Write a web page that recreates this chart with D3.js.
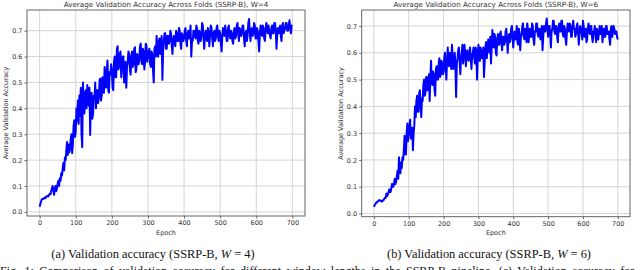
<!DOCTYPE html>
<html>
<head>
<meta charset="utf-8">
<script src="https://cdn.jsdelivr.net/npm/d3@7"></script>
<style>
  body { margin: 0; background: #fff; }
  svg { display: block; }
</style>
</head>
<body>
<div id="chart"></div>
<script>
// validation accuracy, one value every 2 epochs (0..700)
const epochStep = 2;

const accW4 = [
  .02,.03,.04,.048,.05,.05,.052,.055,.053,.058,.06,.062,.06,.065,.07,.068,.08,.09,.10,.085,
  .066,.09,.10,.08,.09,.11,.12,.10,.13,.12,.15,.14,.17,.19,.16,.21,.20,.24,.27,.22,
  .26,.23,.24,.28,.30,.227,.26,.33,.354,.29,.31,.40,.35,.43,.34,.45,.37,.48,.30,.25,
  .50,.42,.38,.46,.47,.40,.49,.44,.41,.48,.297,.43,.46,.36,.38,.45,.44,.50,.40,.47,
  .47,.42,.44,.51,.515,.43,.45,.52,.50,.46,.56,.49,.48,.55,.585,.47,.46,.54,.53,.57,
  .55,.48,.47,.58,.60,.52,.52,.63,.64,.55,.56,.61,.62,.52,.55,.60,.60,.50,.50,.58,
  .48,.56,.58,.62,.61,.55,.53,.60,.62,.56,.57,.63,.636,.54,.55,.61,.60,.57,.59,.64,
  .65,.58,.57,.63,.62,.55,.58,.65,.64,.58,.60,.62,.63,.57,.56,.62,.61,.55,.50,.63,
  .64,.60,.68,.62,.60,.66,.67,.61,.62,.68,.51,.62,.66,.69,.69,.63,.63,.68,.68,.65,
  .66,.70,.69,.64,.61,.67,.68,.65,.64,.70,.69,.66,.66,.71,.70,.65,.63,.69,.68,.66,
  .67,.70,.71,.66,.64,.69,.70,.67,.68,.72,.60,.66,.66,.70,.70,.68,.67,.72,.71,.66,
  .65,.70,.69,.66,.68,.73,.72,.67,.63,.68,.70,.67,.66,.71,.69,.64,.68,.72,.71,.67,
  .64,.69,.70,.66,.67,.71,.72,.68,.66,.70,.69,.65,.62,.68,.71,.69,.68,.72,.70,.66,
  .66,.71,.72,.68,.67,.70,.69,.66,.65,.70,.71,.67,.68,.72,.73,.69,.66,.71,.70,.68,
  .69,.72,.72,.67,.64,.69,.70,.66,.68,.73,.745,.70,.66,.70,.71,.68,.69,.73,.72,.67,
  .67,.71,.70,.66,.62,.69,.72,.70,.68,.72,.71,.67,.66,.71,.73,.70,.69,.72,.70,.68,
  .67,.71,.72,.69,.69,.73,.73,.70,.63,.68,.71,.69,.70,.72,.68,.66,.72,.73,.69,.70,
  .71,.73,.73,.70,.70,.72,.74,.71,.69,.72,.72
];

const accW6 = [
  .025,.03,.035,.04,.04,.045,.045,.048,.05,.048,.048,.045,.045,.05,.05,.055,.06,.058,.075,.065,
  .07,.08,.09,.08,.08,.095,.11,.10,.10,.115,.13,.11,.12,.14,.16,.13,.21,.17,.15,.19,
  .17,.21,.20,.24,.29,.22,.22,.30,.336,.27,.30,.33,.35,.28,.28,.32,.236,.30,.33,.40,
  .36,.42,.44,.38,.38,.45,.46,.40,.36,.43,.42,.48,.50,.44,.45,.51,.51,.46,.47,.52,
  .42,.50,.57,.49,.48,.53,.52,.46,.44,.54,.55,.50,.50,.56,.58,.51,.52,.57,.56,.52,
  .53,.58,.60,.54,.50,.57,.62,.56,.55,.60,.58,.54,.63,.59,.54,.58,.60,.55,.435,.56,
  .58,.61,.62,.57,.52,.58,.60,.63,.56,.59,.63,.60,.55,.59,.61,.58,.57,.60,.62,.58,
  .54,.59,.60,.62,.58,.56,.62,.61,.50,.58,.63,.60,.57,.62,.61,.58,.59,.62,.51,.57,
  .62,.64,.58,.61,.65,.63,.60,.66,.56,.62,.685,.66,.62,.67,.66,.60,.59,.65,.67,.63,
  .63,.67,.68,.64,.61,.66,.66,.63,.64,.68,.69,.65,.60,.65,.67,.64,.65,.69,.70,.66,
  .62,.66,.68,.65,.66,.70,.64,.63,.69,.67,.61,.66,.67,.70,.71,.66,.65,.69,.68,.64,
  .71,.69,.64,.67,.69,.66,.66,.71,.70,.65,.63,.68,.68,.71,.71,.67,.66,.69,.69,.65,
  .67,.70,.61,.66,.70,.68,.68,.71,.728,.69,.66,.70,.70,.67,.62,.68,.69,.72,.72,.68,
  .67,.70,.70,.66,.64,.69,.71,.68,.68,.72,.72,.67,.66,.70,.69,.65,.63,.68,.71,.69,
  .68,.71,.70,.66,.66,.70,.72,.69,.69,.66,.67,.70,.71,.68,.63,.67,.70,.69,.68,.65,
  .72,.70,.66,.68,.69,.64,.65,.69,.71,.68,.67,.70,.70,.66,.64,.68,.68,.70,.66,.64,
  .69,.67,.65,.68,.70,.67,.67,.70,.64,.67,.69,.66,.66,.70,.70,.67,.67,.68,.65,.63,
  .69,.70,.66,.68,.70,.69,.67,.68,.68,.66,.65
];

const xTicks = [0, 100, 200, 300, 400, 500, 600, 700];
const yTicks = [0, 0.1, 0.2, 0.3, 0.4, 0.5, 0.6, 0.7];
const titles = ["Average Validation Accuracy Across Folds (SSRP-B), W=4",
                "Average Validation Accuracy Across Folds (SSRP-B), W=6"];
const captionLetters = ["(a)", "(b)"];
const windowSizes = [4, 6];

const width = 640, height = 270;

let svg = d3.select("#chart")
  .append("svg")
    .attr("width", width)
    .attr("height", height);

const panels = [
  {data: accW4, left: 27, right: 305, top: 10, bottom: 216, yMin: -0.016, yMax: 0.78},
  {data: accW6, left: 361.7, right: 630, top: 10, bottom: 216.7, yMin: -0.012, yMax: 0.76}
];

const sans = "DejaVu Sans, sans-serif";
const serif = "Liberation Serif, Times New Roman, serif";

panels.forEach(function(p, k) {
  let x = d3.scaleLinear().domain([-35, 735]).range([p.left, p.right]);
  let y = d3.scaleLinear().domain([p.yMin, p.yMax]).range([p.bottom, p.top]);

  let g = svg.append("g");

  // grid
  g.selectAll(".vgrid").data(xTicks).enter().append("line")
    .attr("x1", d => x(d)).attr("x2", d => x(d))
    .attr("y1", p.top).attr("y2", p.bottom)
    .attr("stroke", "#d4d4d4").attr("stroke-width", 1);
  g.selectAll(".hgrid").data(yTicks).enter().append("line")
    .attr("x1", p.left).attr("x2", p.right)
    .attr("y1", d => y(d)).attr("y2", d => y(d))
    .attr("stroke", "#d4d4d4").attr("stroke-width", 1);

  // line
  let line = d3.line()
    .x((d, i) => x(i * epochStep))
    .y(d => y(d));
  g.append("path")
    .datum(p.data)
    .attr("d", line)
    .attr("fill", "none")
    .attr("stroke", "#0000ff")
    .attr("stroke-width", 2)
    .attr("stroke-linejoin", "round");

  // axes
  let xAxis = d3.axisBottom(x).tickValues(xTicks).tickSize(2.5).tickPadding(2);
  g.append("g")
    .attr("transform", "translate(0," + p.bottom + ")")
    .call(xAxis);
  let yAxis = d3.axisLeft(y).tickValues(yTicks).tickFormat(d3.format(".1f")).tickSize(2.5).tickPadding(2);
  g.append("g")
    .attr("transform", "translate(" + p.left + ",0)")
    .call(yAxis);
  g.selectAll(".domain").remove();
  g.selectAll(".tick line").attr("stroke", "#444").attr("stroke-width", 0.8);
  g.selectAll(".tick text")
    .style("font-family", sans)
    .style("font-size", "6.5px")
    .attr("fill", "#333");

  // frame
  g.append("rect")
    .attr("x", p.left).attr("y", p.top)
    .attr("width", p.right - p.left).attr("height", p.bottom - p.top)
    .attr("fill", "none").attr("stroke", "#555").attr("stroke-width", 0.9);

  // title
  g.append("text")
    .attr("x", (p.left + p.right) / 2)
    .attr("y", 7)
    .attr("text-anchor", "middle")
    .style("font-family", sans)
    .style("font-size", "7.2px")
    .attr("fill", "#333")
    .text(titles[k]);

  // axis labels
  g.append("text")
    .attr("x", (p.left + p.right) / 2)
    .attr("y", 234.5)
    .attr("text-anchor", "middle")
    .style("font-family", sans)
    .style("font-size", "6.5px")
    .attr("fill", "#333")
    .text("Epoch");
  g.append("text")
    .attr("transform", "translate(" + (p.left - 19) + "," + ((p.top + p.bottom) / 2) + ") rotate(-90)")
    .attr("text-anchor", "middle")
    .style("font-family", sans)
    .style("font-size", "6.5px")
    .attr("fill", "#333")
    .text("Average Validation Accuracy");

  // caption
  let cap = g.append("text")
    .attr("x", k === 0 ? 153 : 489)
    .attr("y", 257.5)
    .attr("text-anchor", "middle")
    .style("font-family", serif)
    .style("font-size", "12.4px")
    .attr("fill", "#111");
  cap.append("tspan").text(captionLetters[k] + " Validation accuracy (SSRP-B, ");
  cap.append("tspan").style("font-style", "italic").text("W");
  cap.append("tspan").text(" = " + windowSizes[k] + ")");
});

// figure caption, cut by the bottom edge as in the source page
svg.append("text")
  .attr("x", 0)
  .attr("y", 274.5)
  .style("font-family", serif)
  .style("font-size", "12px")
  .style("word-spacing", "2.5px")
  .attr("fill", "#111")
  .text("Fig. 1: Comparison of validation accuracy for different window lengths in the SSRP-B pipeline. (c) Validation accuracy for SSRP-B");
</script>
</body>
</html>
